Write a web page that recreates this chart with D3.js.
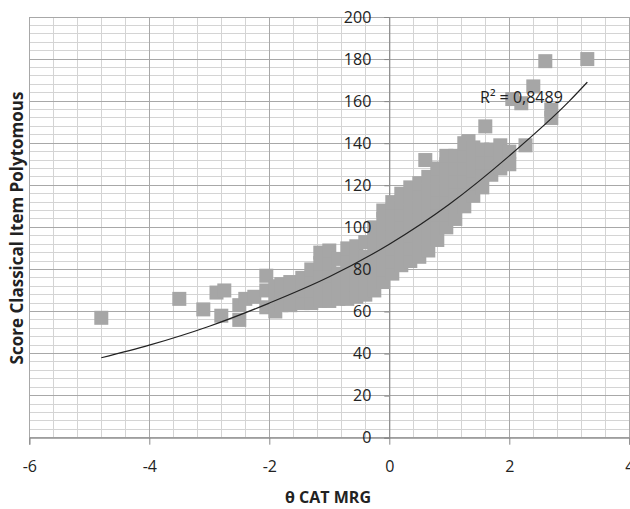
<!DOCTYPE html>
<html>
<head>
<meta charset="utf-8">
<script src="https://cdn.jsdelivr.net/npm/d3@7"></script>
<style>
  body { margin: 0; background: #fff; }
  svg { display: block; }
</style>
</head>
<body>
<div id="chart"></div>
<script>
// scatter: theta CAT MRG vs classical score
const outlierX = [-4.8, -3.5, -3.1, -2.88, -2.75, -2.8, -2.5, -2.5, -2.4, -2.25, 0.6, 1.32, 1.6, 2.05, 2.2, 2.27, 2.4, 2.6, 2.7, 2.7, 3.3];
const outlierY = [57, 66, 61, 69, 70, 58, 63, 56, 66, 67, 132, 141, 148, 161, 159, 139, 167, 179, 156, 152, 180];

// main cloud, column by column
const cloudX = [-2.05, -1.9, -1.8, -1.65, -1.45, -1.3, -1.15, -1.0, -0.85, -0.7, -0.55, -0.4, -0.25, -0.1, 0.05, 0.2, 0.35, 0.5, 0.65, 0.8, 0.95, 1.1, 1.25, 1.4, 1.55, 1.7, 1.85, 2.0];
const cloudY = [
  [62, 70, 77],
  [60, 66, 72],
  [63, 68, 73],
  [63, 68, 74],
  [64, 70, 76],
  [64, 70, 76, 80],
  [65, 71, 77, 83, 88],
  [65, 71, 77, 83, 89],
  [66, 72, 78, 85],
  [66, 72, 78, 84, 90],
  [67, 73, 79, 85, 91],
  [68, 74, 80, 86, 93],
  [70, 76, 82, 88, 94, 100],
  [74, 80, 86, 92, 98, 104, 108],
  [78, 84, 90, 96, 102, 108, 112],
  [82, 88, 94, 100, 106, 112, 116],
  [84, 90, 96, 102, 108, 114, 119],
  [86, 92, 98, 104, 110, 116, 121],
  [89, 95, 101, 107, 113, 119, 124],
  [94, 100, 106, 112, 118, 124, 128],
  [100, 106, 112, 118, 124, 130, 134],
  [104, 110, 116, 122, 128, 134],
  [110, 116, 122, 128, 134, 140],
  [115, 121, 127, 133, 138],
  [119, 125, 131, 137],
  [125, 131, 137],
  [128, 134, 139],
  [130, 136]
];

// exponential trendline, points
const trendX = [-4.8, -4, -3, -2, -1, 0, 1, 2, 3, 3.3];
const trendY = [38, 44, 53, 64, 76.5, 92, 111, 134, 160, 169];
const r2Label = "R² = 0,8489";

const xTicks = [-6, -4, -2, 0, 2, 4];
const yTicks = [0, 20, 40, 60, 80, 100, 120, 140, 160, 180, 200];

const W = 630, H = 509;
const m = {left: 29.3, right: 0.7, top: 17, bottom: 71.3};
const font = "'Open Sans', 'Liberation Sans', sans-serif";

const x = d3.scaleLinear().domain([-6, 4]).range([m.left, W - m.right]);
const y = d3.scaleLinear().domain([0, 200]).range([H - m.bottom, m.top]);

const svg = d3.select("#chart").append("svg")
    .attr("width", W).attr("height", H)
    .attr("font-family", font);

// gridlines
const grid = svg.append("g").attr("shape-rendering", "crispEdges");
grid.append("g").selectAll("line")
    .data(d3.range(-6, 4.001, 0.4).filter(v => Math.abs(Math.round(v / 2) * 2 - v) > 0.01))
    .join("line")
    .attr("x1", d => x(d)).attr("x2", d => x(d))
    .attr("y1", y(0)).attr("y2", y(200))
    .attr("stroke", "#d4d4d4");
grid.append("g").selectAll("line")
    .data(d3.range(0, 200.1, 4).filter(v => v % 20 !== 0))
    .join("line")
    .attr("x1", x(-6)).attr("x2", x(4))
    .attr("y1", d => y(d)).attr("y2", d => y(d))
    .attr("stroke", "#d4d4d4");
grid.append("g").selectAll("line")
    .data(xTicks)
    .join("line")
    .attr("x1", d => x(d)).attr("x2", d => x(d))
    .attr("y1", y(0)).attr("y2", y(200))
    .attr("stroke", "#a8a8a8");
grid.append("g").selectAll("line")
    .data(yTicks)
    .join("line")
    .attr("x1", x(-6)).attr("x2", x(4))
    .attr("y1", d => y(d)).attr("y2", d => y(d))
    .attr("stroke", "#a8a8a8");
grid.append("rect")
    .attr("x", x(-6)).attr("y", y(200))
    .attr("width", x(4) - x(-6)).attr("height", y(0) - y(200))
    .attr("fill", "none").attr("stroke", "#a8a8a8");

// x axis along y=0
const xAxis = svg.append("g")
    .attr("transform", `translate(0,${y(0)})`)
    .call(d3.axisBottom(x).tickValues(xTicks).tickSize(7).tickPadding(16).tickFormat(d3.format("d")));
xAxis.select(".domain").attr("stroke", "#888");
xAxis.selectAll(".tick line").attr("stroke", "#888");
xAxis.selectAll("text").attr("font-size", 16).attr("font-family", font).attr("fill", "#222")
    .text(d => d < 0 ? "-" + Math.abs(d) : d);

// y axis along x=0
const yAxis = svg.append("g")
    .attr("transform", `translate(${x(0)},0)`)
    .call(d3.axisLeft(y).tickValues(yTicks).tickSize(5).tickPadding(13));
yAxis.select(".domain").attr("stroke", "#888");
yAxis.selectAll(".tick line").attr("stroke", "#888");
yAxis.selectAll("text").remove();

// markers
const pts = outlierX.map((v, i) => [v, outlierY[i]]);
cloudX.forEach((v, i) => cloudY[i].forEach(s => pts.push([v, s])));
const sz = 14;
svg.append("g").selectAll("rect")
    .data(pts)
    .join("rect")
    .attr("x", d => x(d[0]) - sz / 2)
    .attr("y", d => y(d[1]) - sz / 2)
    .attr("width", sz).attr("height", sz)
    .attr("fill", "#a6a6a6");

// trendline
svg.append("path")
    .datum(trendX.map((v, i) => [v, trendY[i]]))
    .attr("fill", "none")
    .attr("stroke", "#222")
    .attr("stroke-width", 1.2)
    .attr("d", d3.line().x(d => x(d[0])).y(d => y(d[1])).curve(d3.curveMonotoneX));

// y tick labels on top of markers
svg.append("g").selectAll("text")
    .data(yTicks)
    .join("text")
    .attr("x", x(0) - 18)
    .attr("y", d => y(d))
    .attr("dy", "0.36em")
    .attr("text-anchor", "end")
    .attr("font-size", 16)
    .attr("fill", "#222")
    .text(d => d);

svg.append("text")
    .attr("x", 480).attr("y", 103)
    .attr("font-size", 16)
    .attr("fill", "#222")
    .text(r2Label);

// axis titles
svg.append("text")
    .attr("x", 328).attr("y", 503)
    .attr("text-anchor", "middle")
    .attr("font-size", 16).attr("font-weight", "bold")
    .attr("fill", "#222")
    .text("θ CAT MRG");

svg.append("text")
    .attr("transform", "translate(23,228) rotate(-90)")
    .attr("text-anchor", "middle")
    .attr("font-size", 17).attr("font-weight", "bold")
    .attr("fill", "#222")
    .text("Score Classical Item Polytomous");
</script>
</body>
</html>
